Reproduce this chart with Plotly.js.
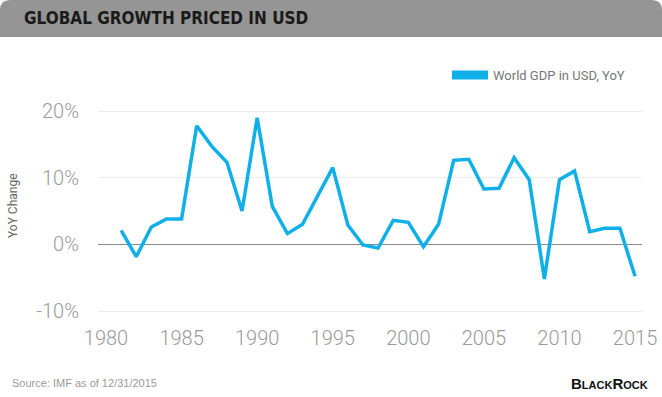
<!DOCTYPE html>
<html>
<head>
<meta charset="utf-8">
<script src="https://cdn.plot.ly/plotly-3.0.1.min.js"></script>
<style>html,body{margin:0;padding:0;background:#fff;}#chart{width:662px;height:397px;}</style>
</head>
<body>
<div id="chart"></div>
<script>
const years = [1981,1982,1983,1984,1985,1986,1987,1988,1989,1990,1991,1992,1993,1994,1995,1996,1997,1998,1999,2000,2001,2002,2003,2004,2005,2006,2007,2008,2009,2010,2011,2012,2013,2014,2015];
const gdpYoY = [2.1,-1.85,2.6,3.8,3.8,17.8,14.7,12.3,5.0,19.0,5.7,1.6,3.0,7.3,11.5,2.9,-0.1,-0.55,3.6,3.3,-0.35,3.0,12.6,12.75,8.3,8.4,13.0,9.7,-5.2,9.7,11.0,1.9,2.4,2.4,-4.8];
const yTickVals = [-10,0,10,20];
const yTickText = ['-10%','0%','10%','20%'];
const xTickVals = [1980,1985,1990,1995,2000,2005,2010,2015];
const seriesName = 'World GDP in USD, YoY';

const W = 662, H = 397, ML = 98, MR = 20, MT = 109, MB = 84;
const PW = W - ML - MR, PH = H - MT - MB;
const px = x => (x - ML) / PW;
const py = y => (H - MB - y) / PH;

const blue = '#0fb0e8';
const r = 10;
const hdr = `M ${px(0)},${py(37)} L ${px(0)},${py(r)} Q ${px(0)},${py(0)} ${px(r)},${py(0)} L ${px(W-r)},${py(0)} Q ${px(W)},${py(0)} ${px(W)},${py(r)} L ${px(W)},${py(37)} Z`;

const traces = [
  {x: years, y: gdpYoY, type: 'scatter', mode: 'lines', line: {color: blue, width: 3.5}, showlegend: false, hoverinfo: 'x+y'},
  {x: [null], y: [null], type: 'scatter', mode: 'lines', name: seriesName, line: {color: blue, width: 9}, showlegend: true}
];

const tickFont = {size: 20, color: '#9a9a9a', family: 'Roboto, sans-serif', weight: 300};

const layout = {
  width: W, height: H,
  margin: {l: ML, r: MR, t: MT, b: MB},
  paper_bgcolor: '#fff', plot_bgcolor: '#fff',
  font: {family: 'Roboto, "Liberation Sans", sans-serif', color: '#9a9a9a'},
  xaxis: {
    range: [1979.47, 2015.46], tickvals: xTickVals, showgrid: false, zeroline: false, showline: false,
    ticks: 'outside', ticklen: 7, tickcolor: 'rgba(0,0,0,0)',
    tickfont: tickFont
  },
  yaxis: {
    range: [-10.3, 20.3], tickvals: yTickVals, ticktext: yTickText,
    showgrid: true, gridcolor: '#ececec', gridwidth: 1,
    zeroline: true, zerolinecolor: '#8a8a8a', zerolinewidth: 1, showline: false,
    ticks: 'outside', ticklen: 14, tickcolor: 'rgba(0,0,0,0)',
    tickfont: tickFont
  },
  showlegend: true,
  legend: {
    x: px(447), y: py(60), xanchor: 'left', yanchor: 'top', itemwidth: 36,
    bgcolor: 'rgba(0,0,0,0)', font: {size: 13, color: '#777', family: 'Roboto, sans-serif'}
  },
  shapes: [
    {type: 'path', xref: 'paper', yref: 'paper', path: hdr, fillcolor: '#959595', line: {width: 0}, layer: 'below'}
  ],
  annotations: [
    {xref: 'paper', yref: 'paper', x: px(22), y: py(18), xanchor: 'left', yanchor: 'middle', showarrow: false,
     text: '<b>GLOBAL GROWTH PRICED IN USD</b>',
     font: {family: '"Liberation Sans Narrow", "DejaVu Sans Condensed", sans-serif', size: 17, color: '#1a1a1a'}},
    {xref: 'paper', yref: 'paper', x: px(13), y: py(206), xanchor: 'center', yanchor: 'middle', showarrow: false,
     textangle: -90, text: 'YoY Change', font: {family: 'Roboto, sans-serif', size: 12, color: '#666'}},
    {xref: 'paper', yref: 'paper', x: px(10), y: py(383), xanchor: 'left', yanchor: 'middle', showarrow: false,
     text: 'Source: IMF as of 12/31/2015', font: {family: '"Liberation Sans", Arial, sans-serif', size: 11, color: '#9a9a9a'}},
    {xref: 'paper', yref: 'paper', x: px(650), y: py(383), xanchor: 'right', yanchor: 'middle', showarrow: false,
     text: '<b><span style="font-size:15px">B</span>LACK<span style="font-size:15px">R</span>OCK</b>',
     font: {family: '"Liberation Sans", Arial, sans-serif', size: 11, color: '#111'}}
  ]
};

Plotly.newPlot('chart', traces, layout, {displayModeBar: false, staticPlot: true});
</script>
</body>
</html>
